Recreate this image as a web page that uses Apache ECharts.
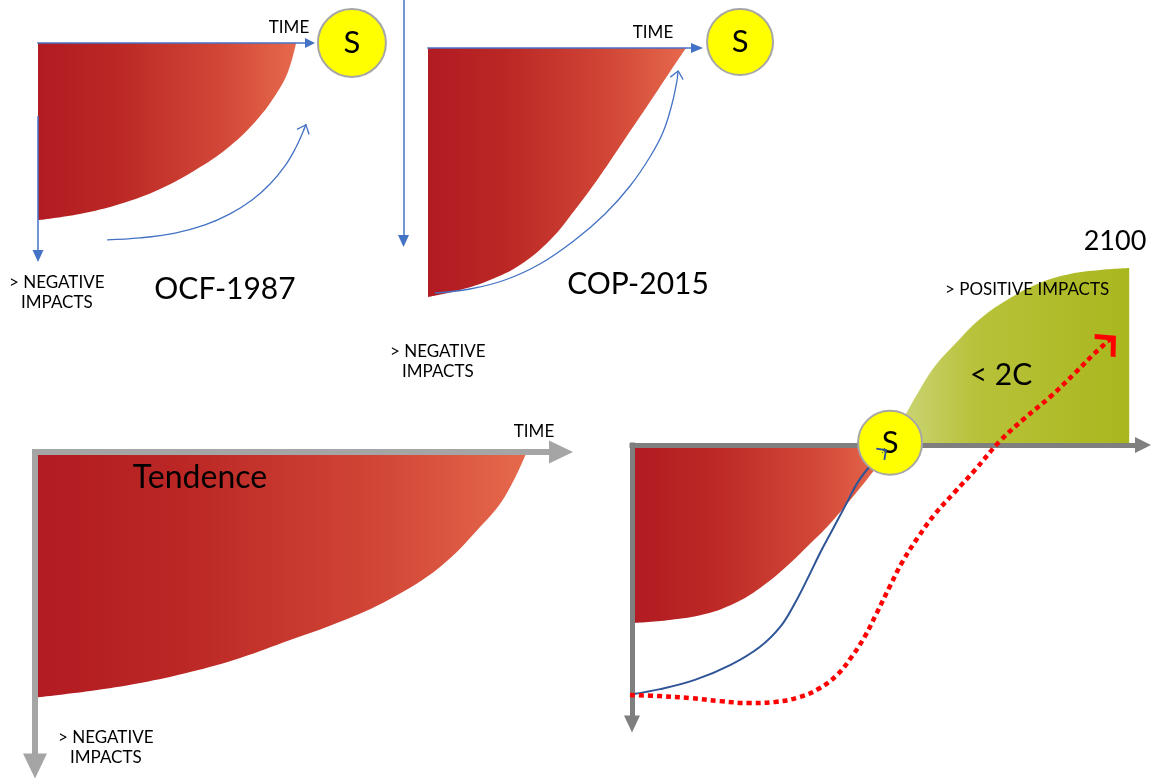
<!DOCTYPE html>
<html><head><meta charset="utf-8">
<script src="https://cdn.jsdelivr.net/npm/echarts@6/dist/echarts.min.js"></script>
<style>html,body{margin:0;padding:0;background:#fff}#c{width:1154px;height:778px}</style>
</head><body><div id="c"></div>
<script>
// ---------- DATA (x = time, y = impact, in each panel's axis units) ----------
// Panel OCF-1987
const ocfRed   = [[0,80.5],[15.4,77.7],[30.1,73.2],[44.9,66.4],[59.6,56.4],[70.6,46.8],[79.8,35.9],[87.1,24.1],[91.9,13.2],[94.9,0]];
const ocfPath  = [[25.4,89.5],[37.5,88.6],[50.4,86.4],[61.4,82.7],[70.6,77.7],[78.7,71.4],[85.3,64.1],[90.8,55.9],[94.9,47.3],[97.4,40.5],[98.5,36.8]];
const ocfArrow = [[97.7,39.6],[98.0,38.7]];
const ocfSun   = [[115.4,0]];
// Panel COP-2015
const copRed   = [[0,99.6],[11.9,96.8],[23.0,92.8],[34.2,86.8],[45.4,76.8],[54.6,64.8],[63.9,51.2],[73.2,36.4],[82.5,21.6],[89.9,9.6],[95.9,0]];
const copPath  = [[2.6,98.0],[15.6,96.4],[28.6,92.8],[41.6,86.4],[54.6,76.8],[65.8,66.4],[75.1,55.2],[82.5,43.6],[87.4,33.6],[90.7,22.4],[92.6,12.8],[92.9,9.6]];
const copArrow = [[92.6,11.4],[92.75,10.6]];
const copSun   = [[116.0,-2.4]];
// Panel Tendence
const tendRed  = [[0,78.2],[10.5,76.1],[20.0,73.6],[29.5,70.1],[39.0,65.6],[48.5,59.9],[58.0,54.1],[67.5,46.8],[77.0,36.6],[84.6,23.9],[89.4,14.0],[93.5,0]];
// Panel 2100 (< 2C)
const futRed    = [[0,63.8],[7.4,62.7],[14.3,60.6],[20.2,56.6],[25.0,51.3],[29.9,44.1],[34.8,35.5],[38.7,28.3],[42.7,19.7],[46.2,11.8],[48.5,6.1],[50.1,0]];
const futGreen  = [[50.5,0],[52.1,-6.1],[54.0,-12.5],[56.4,-20.1],[59.3,-28.3],[63.2,-36.2],[68.1,-45.2],[74.0,-52.7],[79.8,-58.1],[85.7,-61.3],[91.6,-62.7],[97.3,-63.4]];
const futPath   = [[-1.0,89.6],[5.5,87.5],[12.3,84.2],[19.2,78.9],[25.0,72.4],[29.0,65.2],[31.9,56.6],[34.4,47.7],[36.8,38.7],[39.1,30.8],[41.7,21.9],[44.2,13.3],[46.6,7.5],[48.5,3.9],[49.9,1.8]];
const futPathArrow = [[48.9,2.9],[49.2,2.5]];
const futDotted = [[-0.4,89.6],[5.5,90.0],[11.4,90.7],[17.2,91.8],[23.1,92.5],[28.0,92.1],[32.9,90.3],[36.8,87.1],[40.3,82.1],[43.1,75.6],[45.6,68.5],[47.9,60.2],[50.5,50.5],[53.0,41.6],[56.0,33.0],[59.3,24.7],[63.2,16.8],[67.1,9.0],[72.0,-1.4],[76.9,-9.7],[81.8,-17.2],[86.7,-25.8],[90.6,-33.0],[94.1,-38.7]];
const futDottedArrow = [[93.1,-36.5],[93.4,-37.0]];
const futSun    = [[50.5,-0.8]];

// ---------- TEXTS ----------
const txtTime = 'TIME';
const txtNeg1 = '> NEGATIVE';
const txtNeg2 = 'IMPACTS';
const txtOcf = 'OCF-1987';
const txtCop = 'COP-2015';
const txtTend = 'Tendence';
const txtYear = '2100';
const txtPos = '> POSITIVE IMPACTS';
const txtTarget = '< 2C';
const txtSun = 'S';

// ---------- STYLES ----------
const FONT = 'Lato, "Open Sans", sans-serif';
const BLUE = '#4472c4', DARKBLUE = '#2f5597', GRAY3 = '#a5a5a5', GRAY4 = '#7f7f7f';
const redStops = [{offset:0,color:'#b21b22'},{offset:0.3,color:'#bb2725'},{offset:0.7,color:'#d14636'},{offset:1,color:'#e6694d'}];
const greenStops = [{offset:0,color:'#ced77e'},{offset:0.35,color:'#b8c23a'},{offset:1,color:'#a9b71e'}];
const THIN_HEAD = 'path://M0,8 L8,0 L16,8 L15,9 L8,2 L1,9 Z';
const MID_HEAD = 'path://M0,8 L8,0 L16,8 L14.6,9.4 L8,2.8 L1.4,9.4 Z';
const BIG_HEAD = 'path://M0,15 L15,0 L30,15 L26.5,18.5 L15,7 L3.5,18.5 Z';
const SMOOTH = 0.4;

function area(gi, data, stops) {
  return {type:'line', xAxisIndex:gi, yAxisIndex:gi, data:data, smooth:SMOOTH,
    symbol:'none', showSymbol:false, clip:false, silent:true, z:2,
    lineStyle:{width:0, opacity:0},
    areaStyle:{opacity:1, color:{type:'linear',x:0,y:0,x2:1,y2:0,colorStops:stops}}};
}
function curve(gi, data, color, width, dash, arrow, head, headSize) {
  return {type:'line', xAxisIndex:gi, yAxisIndex:gi, data:data, smooth:SMOOTH,
    symbol:'none', showSymbol:false, clip:false, silent:true, z:9,
    lineStyle:{color:color, width:width, type:dash, cap:'butt'},
    markLine:{silent:true, animation:false, z:12, symbol:['none', head], symbolSize:headSize,
      label:{show:false}, emphasis:{disabled:true},
      lineStyle:{color:color, width:1, type:'solid'},
      data:[[{coord:arrow[0]},{coord:arrow[1]}]]}};
}
function sun(gi, data, size) {
  return {type:'scatter', xAxisIndex:gi, yAxisIndex:gi, data:data, symbol:'circle', symbolSize:size,
    clip:false, silent:true, z:10,
    itemStyle:{color:'#ffff00', borderColor:'#a6a6a6', borderWidth:2, opacity:1},
    label:{show:true, position:'inside', formatter:txtSun, fontSize:31, color:'#000', fontFamily:FONT}};
}
function axisLineCfg(color, width, sym, size) {
  return {show:true, onZero:false, symbol:sym, symbolSize:size, lineStyle:{color:color, width:width, cap:'square'}};
}
const noDeco = {axisTick:{show:false}, axisLabel:{show:false}, splitLine:{show:false}};
function xa(gi, opts) { return Object.assign({type:'value', gridIndex:gi, min:0, max:100, z:5}, noDeco, opts); }
function ya(gi, opts) { return Object.assign({type:'value', gridIndex:gi, min:0, max:100, inverse:true, z:5}, noDeco, opts); }

const grids = [
  {left:38, top:43, width:272, height:220},      // 0 OCF
  {left:38, top:117, width:20, height:139},      // 1 OCF vertical arrow
  {left:428, top:48, width:269, height:250},     // 2 COP
  {left:403.5, top:0, width:20, height:241},     // 3 COP vertical arrow
  {left:35, top:452, width:526, height:314},     // 4 Tendence
  {left:632, top:263.65, width:511, height:460.35}, // 5 2100
  {left:632, top:445, width:511, height:279}     // 6 2100 vertical arrow
].map(g => Object.assign({containLabel:false, outerBoundsMode:'none', show:false}, g));

const xAxes = [
  xa(0, {position:'top', axisLine:axisLineCfg(BLUE,1.5,['none','triangle'],[10,10])}),
  xa(1, {show:false}),
  xa(2, {position:'top', axisLine:axisLineCfg(BLUE,1.5,['none','triangle'],[10,12])}),
  xa(3, {show:false}),
  xa(4, {position:'top', axisLine:axisLineCfg(GRAY3,6,['none','triangle'],[23,24])}),
  xa(5, {axisLine:{show:true, onZero:true, symbol:['none','triangle'], symbolSize:[16,16], lineStyle:{color:GRAY4, width:5, cap:'square'}}}),
  xa(6, {show:false})
];
const yAxes = [
  ya(0, {show:false}),
  ya(1, {axisLine:axisLineCfg(BLUE,1.5,['triangle','none'],[11,12])}),
  ya(2, {show:false}),
  ya(3, {axisLine:axisLineCfg(BLUE,1.5,['triangle','none'],[11,12])}),
  ya(4, {axisLine:axisLineCfg(GRAY3,6,['triangle','none'],[24,25])}),
  ya(5, {show:false, min:-65, max:100}),
  ya(6, {axisLine:axisLineCfg(GRAY4,5,['triangle','none'],[16,17])})
];

const series = [
  area(0, ocfRed, redStops),
  curve(0, ocfPath, BLUE, 1.3, 'solid', ocfArrow, THIN_HEAD, [14,9]),
  sun(0, ocfSun, 68),
  area(2, copRed, redStops),
  curve(2, copPath, BLUE, 1.3, 'solid', copArrow, THIN_HEAD, [14,9]),
  sun(2, copSun, 66),
  area(4, tendRed, redStops),
  area(5, futRed, redStops),
  area(5, futGreen, greenStops),
  sun(5, futSun, 64),
  curve(5, futPath, DARKBLUE, 2, 'solid', futPathArrow, MID_HEAD, [15,9]),
  curve(5, futDotted, '#ff0000', 4.5, [5,4], futDottedArrow, BIG_HEAD, [31,18])
];

// annotation layout: [text, x, y, fontSize, align]
const notes = [
  [txtTime, 289, 28, 17, 'center'],
  [txtNeg1, 9, 283, 17, 'left'],
  [txtNeg2, 21, 303, 17, 'left'],
  [txtOcf, 225, 289, 30, 'center'],
  [txtTime, 653, 33, 17, 'center'],
  [txtCop, 638, 284, 30, 'center'],
  [txtNeg1, 390, 352, 17, 'left'],
  [txtNeg2, 402, 372, 17, 'left'],
  [txtTime, 534, 432, 17, 'center'],
  [txtTend, 200, 478, 32, 'center'],
  [txtNeg1, 58, 738, 17, 'left'],
  [txtNeg2, 70, 758, 17, 'left'],
  [txtYear, 1115, 241, 27, 'center'],
  [txtPos, 945, 290, 17, 'left'],
  [txtTarget, 1001, 375, 30, 'center']
];
const graphic = notes.map(n => ({type:'text', x:n[1], y:n[2], z:30, silent:true,
  style:{text:n[0], font:n[3] + 'px ' + FONT, fill:'#000', align:n[4], verticalAlign:'middle',
         textAlign:n[4], textVerticalAlign:'middle'}}));

const chart = echarts.init(document.getElementById('c'), null, {renderer:'canvas'});
chart.setOption({
  animation:false,
  backgroundColor:'#ffffff',
  textStyle:{fontFamily:FONT},
  grid:grids, xAxis:xAxes, yAxis:yAxes, series:series, graphic:graphic
});
</script></body></html>
